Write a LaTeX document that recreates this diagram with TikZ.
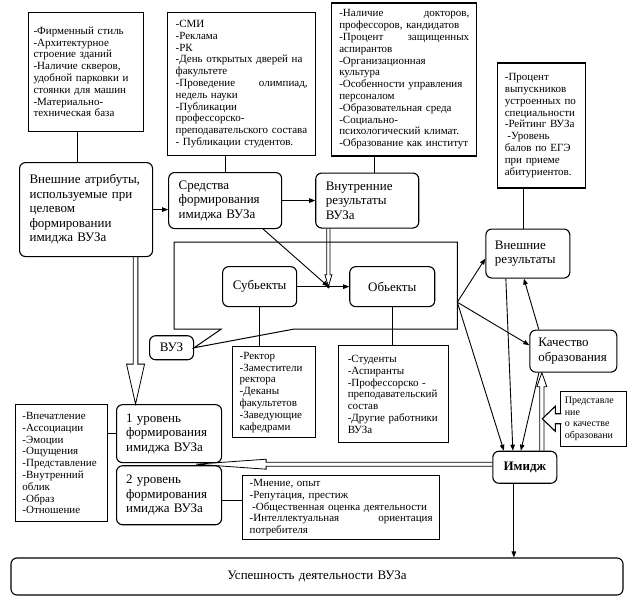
\documentclass[tikz,border=0pt]{standalone}
\usepackage{fontspec}
\setmainfont{Liberation Serif}
\usetikzlibrary{arrows.meta, positioning, calc}

\begin{document}
\begin{tikzpicture}[
        x=1pt, y=1pt,
        >={Triangle[length=6pt, width=4.5pt]},
        listbox/.style={draw, line width=1.1pt, align=left, inner xsep=7pt, inner ysep=2pt, font=\fontsize{11}{11.8}\selectfont},
        mainbox/.style={draw, line width=1.1pt, rounded corners=6pt, align=left, inner xsep=10pt, inner ysep=2pt, font=\fontsize{13}{14.5}\selectfont},
        conn/.style={line width=0.9pt},
        arr/.style={->, conn},
        dblarr/.style={line width=0.8pt, line join=miter},
        grpline/.style={line width=1pt},
    ]
    \useasboundingbox (0,0) rectangle (629,-597);

    %% ===== Upper row =====
    \node[mainbox, anchor=north west, text width=113pt, minimum width=133pt, minimum height=94pt] (extattr) at (19,-162) {Внешние атрибуты,\\используемые при\\целевом\\формировании\\имиджа ВУЗа};
    \node[mainbox, right=15pt of extattr, yshift=9pt, text width=93pt, minimum width=113pt, minimum height=56pt] (means) {Средства\\формирования\\имиджа ВУЗа};
    \node[mainbox, right=33pt of means, text width=83pt, minimum width=103pt, minimum height=55pt] (intres) {Внутренние\\результаты\\ВУЗа};

    %% ===== Lists on top =====
    \node[listbox, above=30pt of extattr, text width=105pt, inner xsep=5pt, minimum width=115pt, minimum height=119pt] (attrlist) {-Фирменный стиль\\-Архитектурное\\строение зданий\\-Наличие скверов,\\удобной парковки и\\стоянки для машин\\-Материально-\\техническая база};
    \node[listbox, above=16pt of means, xshift=16.5pt, text width=132pt, inner xsep=8pt, minimum width=148pt, minimum height=143pt] (smilist) {-СМИ\\-Реклама\\-РК\\-День открытых дверей на\\факультете\\-Проведение \hfill олимпиад,\\недель науки\\-Публикации\\профессорско-\\преподавательского состава\\- Публикации студентов.};
    \node[listbox, above=16pt of intres, xshift=37pt, text width=130pt, inner xsep=7.5pt, minimum width=145pt, minimum height=153pt] (docslist) {-Наличие \hfill докторов,\\профессоров, кандидатов\\-Процент \hfill защищенных\\аспирантов\\-Организационная\\культура\\-Особенности управления\\персоналом\\-Образовательная среда\\-Социально-\\психологический климат.\\-Образование как институт};
    \node[listbox, below right=60pt and 20pt of docslist.north east, text width=74pt, minimum width=88pt, minimum height=125pt] (gradlist) {-Процент\\выпускников\\устроенных по\\специальности\\-Рейтинг ВУЗа\\\hspace*{2.5pt}-Уровень\\балов по ЕГЭ\\при приеме\\абитуриентов.};

    %% ===== Right column =====
    \node[mainbox, below=40pt of gradlist, xshift=-14pt, text width=66pt, inner xsep=9pt, minimum width=84pt, minimum height=49pt] (extres) {Внешние\\результаты};
    \node[mainbox, below=51pt of extres, xshift=45.5pt, text width=70pt, inner xsep=8.5pt, minimum width=87pt, minimum height=42pt] (quality) {Качество\\образования};
    \node[mainbox, below=78pt of quality, xshift=-48.5pt, align=center, text width=44pt, minimum width=64pt, minimum height=32pt, font=\fontsize{13}{14.5}\selectfont\bfseries] (image) {Имидж};
    \node[listbox, below=18pt of quality, xshift=20.5pt, text width=58pt, inner xsep=4pt, minimum width=66pt, minimum height=55pt, font=\fontsize{10}{11.5}\selectfont] (perception) {Представле\\ние\\о качестве\\образовани};

    %% ===== Subjects and objects =====
    \node[mainbox, below=37pt of means, xshift=34.5pt, align=center, text width=54pt, minimum width=74pt, minimum height=40pt] (subj) {Субьекты};
    \node[mainbox, right=52pt of subj, align=center, text width=65pt, minimum width=85pt, minimum height=40pt] (obj) {Обьекты};
    \node[mainbox, below left=28pt and 28pt of subj.south west, align=center, text width=28pt, inner xsep=8pt, minimum width=44pt, minimum height=24pt] (vuz) {ВУЗ};
    \node[listbox, below=39pt of subj, xshift=14.5pt, text width=69pt, minimum width=83pt, minimum height=91pt] (rectorlist) {-Ректор\\-Заместители\\ректора\\-Деканы\\факультетов\\-Заведующие\\кафедрами};
    \node[listbox, below=38pt of obj, xshift=1.5pt, text width=92pt, inner xsep=9pt, minimum width=110pt, minimum height=97pt] (studlist) {-Студенты\\-Аспиранты\\-Профессорско -\\преподавательский\\состав\\-Другие работники\\ВУЗа};

    %% ===== Image levels =====
    \node[mainbox, below right=147pt and 97pt of extattr.south west, text width=86pt, inner xsep=9.5pt, minimum width=105pt, minimum height=58pt] (level1) {1 уровень\\формирования\\имиджа ВУЗа};
    \node[mainbox, below=2pt of level1, text width=86pt, inner xsep=9.5pt, minimum width=105pt, minimum height=59pt] (level2) {2 уровень\\формирования\\имиджа ВУЗа};
    \node[listbox, left=8pt of level1.north west, anchor=north east, text width=78pt, minimum width=92pt, minimum height=117pt] (impressionlist) {-Впечатление\\-Ассоциации\\-Эмоции\\-Ощущения\\-Представление\\-Внутренний\\облик\\-Образ\\-Отношение};
    \node[listbox, below right=10pt and 20pt of level2.north east, text width=183pt, minimum width=197pt, minimum height=64pt] (opinionlist) {-Мнение, опыт\\-Репутация, престиж\\\hspace*{2.5pt}-Общественная оценка деятельности\\-Интеллектуальная \hfill ориентация\\потребителя};

    %% ===== Result =====
    \node[mainbox, align=center, text width=592pt, minimum width=612pt, minimum height=37pt] (success) at (317,-576.5) {Успешность деятельности ВУЗа};

    %% Lists to their boxes
    \draw[conn] ($(attrlist.south)+(-8.5,0)$) -- ($(extattr.north)+(-8.5,0)$);
    \draw[conn] (means.north) -- (means.north |- smilist.south);
    \draw[conn] ($(intres.north)+(7.5,0)$) -- ($(intres.north |- docslist.south)+(7.5,0)$);
    \draw[conn] ($(extres.north)+(-4,0)$) -- ($(extres.north |- gradlist.south)+(-4,0)$);
    \draw[conn] (subj.south) -- (subj.south |- rectorlist.north);
    \draw[conn] (obj.south) -- (obj.south |- studlist.north);
    \draw[conn] (level1.west) -- (level1.west -| impressionlist.east);
    \draw[conn] ($(level2.east)+(0,-5)$) -- ($(level2.east -| opinionlist.west)+(0,-5)$);

    %% Upper chain
    \draw[arr] (extattr.east) -- (extattr.east -| means.west);
    \draw[arr] (means.east) -- (intres.west);

    %% ===== Group with pointer to VUZ =====
    \coordinate (grpnw) at ($(subj.north west)+(-48,24)$);
    \coordinate (grpse) at ($(obj.south east)+(22,-22)$);
    \draw[grpline] (grpnw) -| (grpse) -- ($(grpse)+(-164,0)$) -- (vuz.east) -- ($(grpnw |- grpse)+(47,0)$) -- (grpnw |- grpse) -- cycle;

    %% Junction between subjects and objects
    \coordinate (jn) at ($(subj.east)!0.6!(obj.west)$);
    \draw[arr] (subj.east) -- (obj.west);
    \draw[arr] ($(means.south)+(38,0)$) -- (jn);
    \draw[dblarr] ($(intres.south -| jn)+(-1.6,0)$) -- ($(jn)+(-1.6,12)$) -- ($(jn)+(-3.5,12)$) -- (jn) -- ($(jn)+(3.5,12)$) -- ($(jn)+(1.6,12)$) -- ($(intres.south -| jn)+(1.6,0)$);
    \fill (jn) circle (1.8pt);

    %% From the group
    \coordinate (gr) at ($(grpse)+(0,27)$);
    \draw[arr] (gr) -- ($(extres.west)+(0,-5)$);
    \draw[arr] (gr) -- ($(quality.west)+(0,6)$);
    \draw[arr] (gr) -- ($(image.north)+(-21,0)$);

    %% Results to image
    \draw[arr] ($(extres.south)+(-22,0)$) -- ($(image.north)+(-12,0)$);
    \draw[arr] ($(quality.south)+(-34.5,0)$) -- ($(image.north)+(-4,0)$);
    \draw[arr] ($(quality.north)+(-34.5,0)$) -- ($(extres.south)+(-4,0)$);

    %% Image up to quality (double)
    \coordinate (qs) at ($(image.north)+(17,0)$);
    \coordinate (qt) at (qs |- quality.south);
    \draw[dblarr] ($(qs)+(-2.2,0)$) -- ($(qt)+(-2.2,-14)$) -- ($(qt)+(-5,-14)$) -- (qt) -- ($(qt)+(5,-14)$) -- ($(qt)+(2.2,-14)$) -- ($(qs)+(2.2,0)$);
    \draw[line width=1.1pt, fill=white] ($(perception.west)+(1,5)$) -- ($(perception.west)+(-5,5)$) -- ($(perception.west)+(-5,12.5)$) -- ($(perception.west)+(-18,0)$) -- ($(perception.west)+(-5,-12.5)$) -- ($(perception.west)+(-5,-5)$) -- ($(perception.west)+(1,-5)$);

    %% Image back to the levels (double)
    \coordinate (lt) at ($(level1.south east)!0.5!(level2.north east)+(-26,0)$);
    \draw[dblarr] ($(image.west |- lt)+(0,2)$) -- ($(lt)+(70,2)$) -- ($(lt)+(70,5)$) -- (lt) -- ($(lt)+(70,-5)$) -- ($(lt)+(70,-2)$) -- ($(image.west |- lt)+(0,-2)$);

    %% External attributes down to level 1 (double)
    \coordinate (ls) at ($(extattr.south)+(49.5,0)$);
    \coordinate (lv) at (ls |- level1.north);
    \draw[dblarr] ($(ls)+(-2.3,0)$) -- ($(lv)+(-2.3,40)$) -- ($(lv)+(-9,40)$) -- (lv) -- ($(lv)+(9,40)$) -- ($(lv)+(2.3,40)$) -- ($(ls)+(2.3,0)$);

    %% Image to success
    \draw[arr] ($(image.south)+(-11,0)$) -- ($(image.south |- success.north)+(-11,0)$);

\end{tikzpicture}
\end{document}
